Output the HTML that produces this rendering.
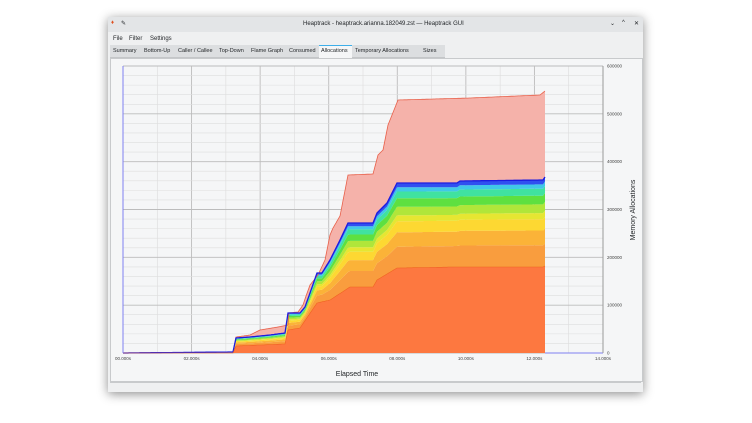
<!DOCTYPE html>
<html><head><meta charset="utf-8"><style>
body{margin:0;width:752px;height:423px;background:#fff;overflow:hidden;font-family:"Liberation Sans",sans-serif;}
#win{position:absolute;left:108px;top:17px;width:535px;height:375px;background:#eff0f1;box-shadow:0 2px 10px rgba(0,0,0,.45);}
.t{position:absolute;font-size:6px;color:#232629;white-space:nowrap}
.tb{font-size:5.5px}
</style></head><body>
<div id="win">
 <div style="position:absolute;left:0;top:0;width:535px;height:15px;background:#e3e5e7"></div>
 <div class="t" style="left:195px;top:4px">Heaptrack - heaptrack.arianna.182049.zst — Heaptrack GUI</div>
 <div class="t" style="left:3px;top:3px;color:#e05020">♦</div>
 <div class="t" style="left:13px;top:3px">✎</div>
 <div class="t" style="left:502px;top:3px">⌄</div><div class="t" style="left:514px;top:3px">^</div><div class="t" style="left:526px;top:3px">✕</div>
 <div class="t" style="left:5px;top:19px">File</div><div class="t" style="left:21px;top:19px">Filter</div><div class="t" style="left:42px;top:19px">Settings</div>
 <div style="position:absolute;left:2px;top:28px;width:335px;height:12px;background:#dcdee0;border-bottom:1px solid #c4c6c8"></div>
 <div style="position:absolute;left:211px;top:28px;width:33px;height:12px;background:#f5f6f7;border-top:1px solid #3daee9"></div>
 <div class="t tb" style="left:5px;top:31px">Summary</div><div class="t tb" style="left:36px;top:31px">Bottom-Up</div><div class="t tb" style="left:70px;top:31px">Caller / Callee</div><div class="t tb" style="left:111px;top:31px">Top-Down</div><div class="t tb" style="left:143px;top:31px">Flame Graph</div><div class="t tb" style="left:181px;top:31px">Consumed</div><div class="t tb" style="left:213px;top:31px">Allocations</div><div class="t tb" style="left:247px;top:31px">Temporary Allocations</div><div class="t tb" style="left:315px;top:31px">Sizes</div>
 <div style="position:absolute;left:2px;top:41px;width:531px;height:322px;background:#f5f6f7;border:1px solid #c8cacc"></div>
 <div style="position:absolute;left:2px;top:365px;width:531px;height:7px;border-top:1px solid #c8cacc"></div>
</div>
<svg id="s" width="752" height="423" style="position:absolute;left:0;top:0" font-family="Liberation Sans, sans-serif"></svg>
<script>
const s=document.getElementById('s');let h='';
const X=t=>123+t*480/14,Y=v=>353-v*287/600;
for(let i=0;i<=14;i++){h+=`<line x1="${X(i)}" y1="66" x2="${X(i)}" y2="353" stroke="${i%2?'#dcdcdc':'#bcbcbc'}" stroke-width="${i%2?0.6:0.9}"/>`;}
for(let v=0;v<=600;v+=20){h+=`<line x1="123" y1="${Y(v)}" x2="603" y2="${Y(v)}" stroke="${v%100?'#dedede':'#bcbcbc'}" stroke-width="${v%100?0.6:0.9}"/>`;}
const B=[[123,353],[233,352],[236,338],[250,337],[270,335],[285,333],[288,313],[300,313],[305,307],[310,293],[317,273],[322,273],[330,260],[340,240],[348,223],[373,223],[377,213],[387,203],[397,183],[457,183],[460,181],[543,180],[545,177]];
const O=[[123,353],[233,353],[236,346],[285,344],[288,330],[300,328],[317,303],[330,300],[350,287],[373,287],[377,280],[397,268],[457,267],[543,267],[545,266]];
const T=[[123,353],[233,352],[236,337],[250,335],[260,330],[278,327],[288,325],[288,313],[298,312],[303,305],[306,296],[310,285],[318,275],[325,260],[330,235],[333,228],[340,216],[348,175],[373,174],[378,155],[383,150],[388,125],[398,100],[470,98],[540,95],[545,91]];
function at(P,x){for(let i=1;i<P.length;i++){if(x<=P[i][0]){const a=P[i-1],b=P[i];const f=b[0]==a[0]?1:(x-a[0])/(b[0]-a[0]);return a[1]+(b[1]-a[1])*f;}}return P[P.length-1][1];}
const xs=[];for(let x=123;x<=545;x+=1)xs.push(x);
function path(f1,f2){let p='M'+xs.map(x=>x+','+f2(x).toFixed(1)).join('L');p+='L'+xs.slice().reverse().map(x=>x+','+f1(x).toFixed(1)).join('L')+'Z';return p;}
h+=`<path d="${path(x=>at(B,x),x=>at(T,x))}" fill="#f5b2aa"/>`;
h+=`<path d="${path(x=>353,x=>at(O,x))}" fill="#fd7840"/>`;
const bands=[[0.25,'#f99d3e'],[0.42,'#fbb338'],[0.55,'#fdd832'],[0.62,'#e6e632'],[0.72,'#b0e63a'],[0.82,'#5ee040'],[0.9,'#40e2a0'],[0.95,'#40c8e8'],[1,'#3050f0']];
let prev=0;for(const[f,c]of bands){const g=(x,k)=>{const o=at(O,x),b=at(B,x);return o+(b-o)*k;};h+=`<path d="${path(x=>g(x,prev),x=>g(x,f))}" fill="${c}"/>`;prev=f;}
const pl=P=>'M'+xs.map(x=>x+','+at(P,x).toFixed(1)).join('L');
h+=`<path d="${pl(T)}" fill="none" stroke="#e8604a" stroke-width="0.8"/>`;
h+=`<path d="${pl(B)}" fill="none" stroke="#1c1ce0" stroke-width="1.3"/>`;
h+=`<path d="${pl(O)}" fill="none" stroke="#f06020" stroke-width="0.6"/>`;
h+=`<line x1="123" y1="66" x2="123" y2="353" stroke="#8080f0"/><line x1="545" y1="353" x2="603" y2="353" stroke="#8080f0"/><line x1="603" y1="66" x2="603" y2="353" stroke="#999"/>`;
for(let i=0;i<=14;i+=2){h+=`<text x="${X(i)}" y="360" font-size="4.5" fill="#444" text-anchor="middle">${String(i).padStart(2,'0')}.000s</text>`;}
for(let v=0;v<=600;v+=100){h+=`<text x="607" y="${Y(v)+1.5}" font-size="4.5" fill="#444">${v?v*1000:0}</text>`;}
h+=`<text x="357" y="376" font-size="7" fill="#232629" text-anchor="middle">Elapsed Time</text>`;
h+=`<text transform="translate(635,210) rotate(-90)" font-size="7" fill="#232629" text-anchor="middle">Memory Allocations</text>`;
s.innerHTML=h;
</script>
</body></html>
